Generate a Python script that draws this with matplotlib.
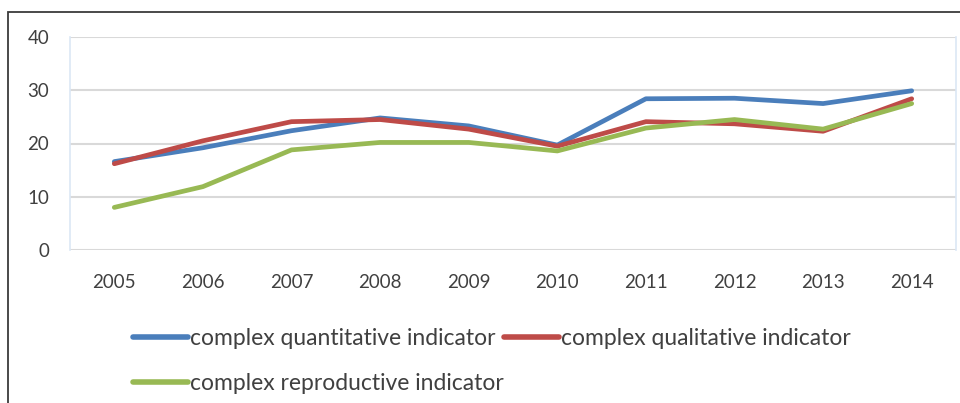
import matplotlib.pyplot as plt
from matplotlib.patches import Rectangle

# === Data ===
years = ['2005', '2006', '2007', '2008', '2009', '2010', '2011', '2012', '2013', '2014']
quantitative = [16.6, 19.2, 22.4, 24.8, 23.3, 19.7, 28.4, 28.5, 27.5, 29.9]
qualitative = [16.2, 20.5, 24.1, 24.5, 22.7, 19.5, 24.1, 23.7, 22.3, 28.4]
reproductive = [8.0, 11.9, 18.8, 20.2, 20.2, 18.6, 22.9, 24.5, 22.7, 27.5]
yticks = [0, 10, 20, 30, 40]

labels = ['complex quantitative indicator',
          'complex qualitative indicator',
          'complex reproductive indicator']
colors = ['#4a7ebb', '#be4b48', '#98b954']

plt.rcParams['font.family'] = ['Lato', 'DejaVu Sans']

# === Plot Setup ===
fig = plt.figure(figsize=(9.6, 4.03), dpi=100)
ax = fig.add_axes([70 / 960, 1 - 250 / 403, 886 / 960, 213 / 403])

x = list(range(len(years)))
handles = []
for vals, lbl, col in zip([quantitative, qualitative, reproductive], labels, colors):
    h, = ax.plot(x, vals, color=col, linewidth=3.4, label=lbl, solid_capstyle='round')
    handles.append(h)

ax.set_xlim(-0.5, len(years) - 0.5)
ax.set_ylim(0, 40)
ax.set_yticks(yticks)
ax.set_xticks(x)
ax.set_xticklabels(years)
ax.grid(axis='y', color='#d9d9d9', linewidth=1.5)
ax.set_axisbelow(True)
ax.tick_params(axis='both', length=0, labelsize=13.5, colors='#404040')
ax.tick_params(axis='y', pad=15)
ax.tick_params(axis='x', pad=17)

for side in ['top', 'bottom']:
    ax.spines[side].set_visible(False)
for side in ['left', 'right']:
    ax.spines[side].set_color('#dbe7f5')
    ax.spines[side].set_linewidth(1.2)

# === Legend (row-major order: quantitative, qualitative / reproductive) ===
order = [0, 2, 1]
leg = fig.legend(
    [handles[i] for i in order], [labels[i] for i in order],
    loc='upper left',
    bbox_to_anchor=(112 / 960, 1 - 307 / 403),
    ncol=2,
    frameon=False,
    fontsize=16.5,
    handlelength=2.4,
    handletextpad=0.1,
    columnspacing=0.0,
    labelspacing=1.05,
)
for txt in leg.get_texts():
    txt.set_color('#404040')
for line in leg.get_lines():
    line.set_linewidth(4)

# === Outer frame ===
fig.patches.append(Rectangle((8 / 960, -0.2), 1.2, 1 - 12 / 403 + 0.2,
                             transform=fig.transFigure, fill=False,
                             edgecolor='#3a3a3a', linewidth=1.3))

plt.savefig('out.png', dpi=100)
